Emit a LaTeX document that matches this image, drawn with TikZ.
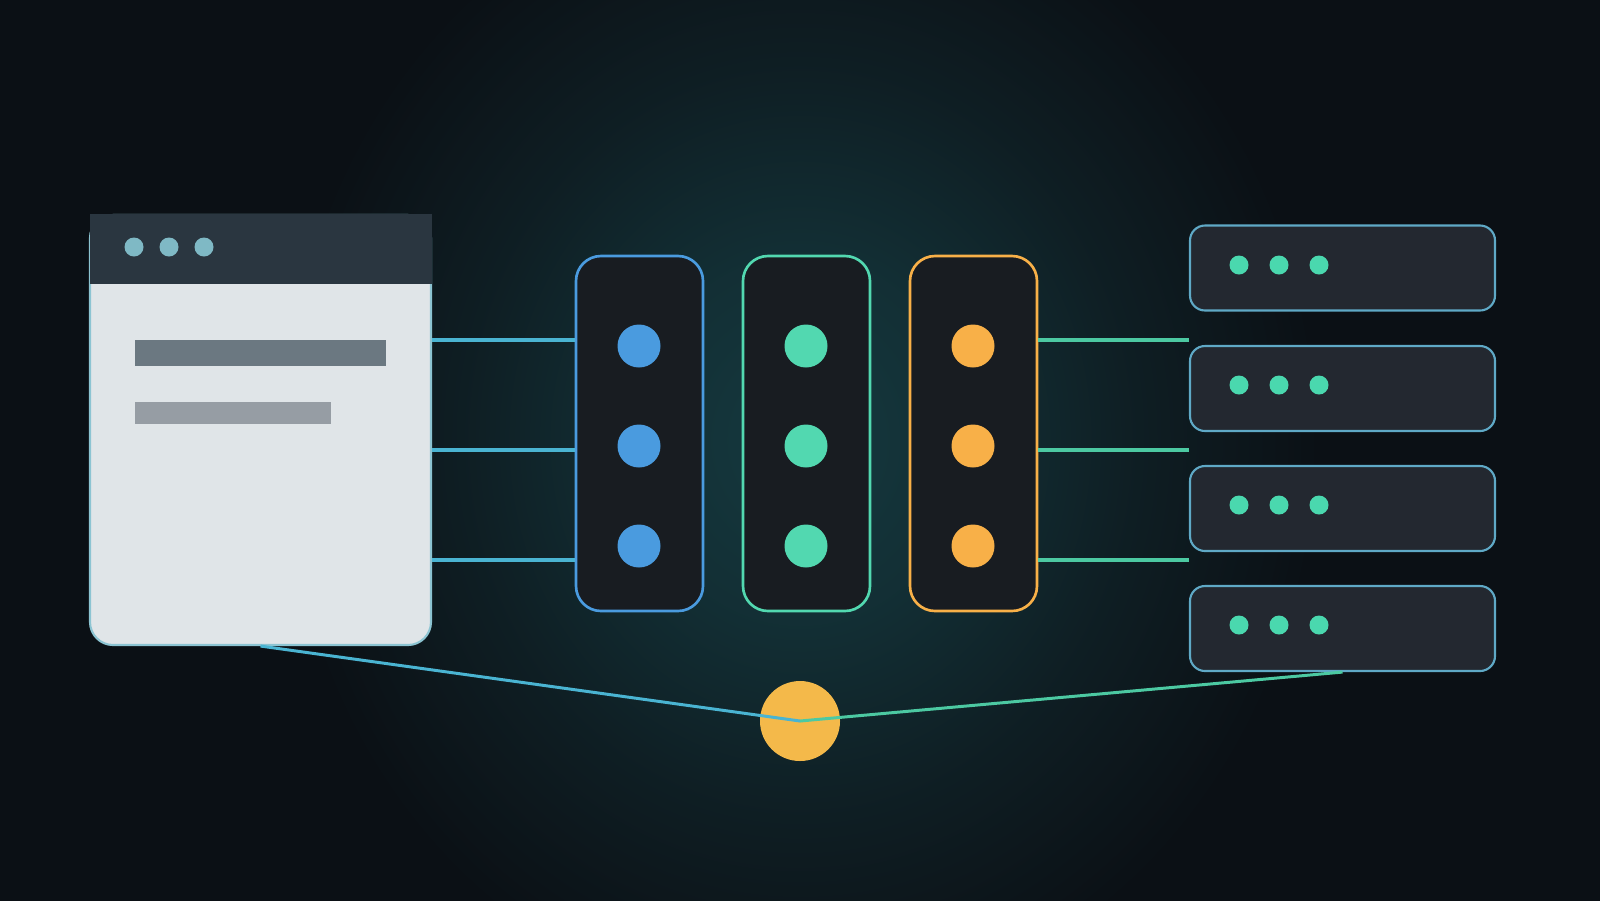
\documentclass[tikz,border=0pt]{standalone}
\usepackage{tikz}
\usetikzlibrary{calc}

\definecolor{bgdark}{HTML}{0B1015}
\definecolor{glowteal}{HTML}{15393F}
\definecolor{boxfill}{HTML}{181C21}
\definecolor{srvfill}{HTML}{232830}
\definecolor{srvline}{HTML}{5FA9C6}
\definecolor{pagebody}{HTML}{E0E5E8}
\definecolor{pageline}{HTML}{8CC4D2}
\definecolor{pagehead}{HTML}{2A3640}
\definecolor{headdot}{HTML}{7FB9C5}
\definecolor{barone}{HTML}{6B7881}
\definecolor{bartwo}{HTML}{969DA4}
\definecolor{nodeblue}{HTML}{4A9BDF}
\definecolor{nodegreen}{HTML}{52D8B0}
\definecolor{nodeorange}{HTML}{F8B048}
\definecolor{hubyellow}{HTML}{F4B94A}
\definecolor{srvdot}{HTML}{4AD8AE}
\definecolor{wireblue}{HTML}{4AB4D2}
\definecolor{wiregreen}{HTML}{4CC9A2}

\pgfdeclareradialshading{glowshade}{\pgfpoint{0bp}{0bp}}{color(0bp)=(glowteal); color(8bp)=(glowteal!75!bgdark); color(16bp)=(glowteal!35!bgdark); color(25bp)=(bgdark); color(50bp)=(bgdark)}

\begin{document}
\begin{tikzpicture}[
    colbox/.style={line width=0.75pt, rounded corners=0.25cm, fill=boxfill, minimum width=1.27cm, minimum height=3.55cm, inner sep=0pt},
    srvbox/.style={draw=srvline, line width=0.6pt, rounded corners=0.15cm, fill=srvfill, minimum width=3.05cm, minimum height=0.85cm, inner sep=0pt},
    coldot/.style={inner sep=0pt, shape=circle, minimum size=0.43cm},
    smalldot/.style={inner sep=0pt, shape=circle, minimum size=0.19cm},
    bar/.style={inner sep=0pt, shape=rectangle},
    leftwire/.style={wireblue, line width=1.15pt},
    rightwire/.style={wiregreen, line width=1.15pt},
  ]
          \useasboundingbox (0,0) rectangle (16,-9);
          % background and glow
          \fill[bgdark] (-0.1,0.1) rectangle (16.1,-9.1);
          \shade[shading=glowshade] (8,-4.4) ellipse (5.2 and 5.8);

          % browser window
          \node[draw=pageline, line width=0.6pt, fill=pagebody, rounded corners=0.23cm, minimum width=3.41cm, minimum height=4.30cm, inner sep=0pt] (browser) at (2.605,-4.30) {};
          \node[fill=pagehead, minimum width=3.42cm, minimum height=0.70cm, inner sep=0pt] (header) at (2.605,-2.49) {};
          \node[fill=headdot, smalldot] (hd1) at (1.34,-2.47) {};
          \node[fill=headdot, smalldot] (hd2) at (1.69,-2.47) {};
          \node[fill=headdot, smalldot] (hd3) at (2.04,-2.47) {};
          \node[fill=barone, bar, minimum width=2.51cm, minimum height=0.26cm] (bar1) at (2.605,-3.53) {};
          \node[fill=bartwo, bar, minimum width=1.96cm, minimum height=0.22cm] (bar2) at (2.33,-4.13) {};

          % three columns
          \node[colbox, draw=nodeblue] (colA) at (6.395,-4.335) {};
          \node[colbox, draw=nodegreen] (colB) at (8.065,-4.335) {};
          \node[colbox, draw=nodeorange] (colC) at (9.735,-4.335) {};
          \node[fill=nodeblue, coldot] (a1) at (6.39,-3.46) {};
          \node[fill=nodeblue, coldot] (a2) at (6.39,-4.46) {};
          \node[fill=nodeblue, coldot] (a3) at (6.39,-5.46) {};
          \node[fill=nodegreen, coldot] (b1) at (8.06,-3.46) {};
          \node[fill=nodegreen, coldot] (b2) at (8.06,-4.46) {};
          \node[fill=nodegreen, coldot] (b3) at (8.06,-5.46) {};
          \node[fill=nodeorange, coldot] (c1) at (9.73,-3.46) {};
          \node[fill=nodeorange, coldot] (c2) at (9.73,-4.46) {};
          \node[fill=nodeorange, coldot] (c3) at (9.73,-5.46) {};

          % server stack
          \node[srvbox] (srv1) at (13.425,-2.68) {};
          \node[srvbox] (srv2) at (13.425,-3.885) {};
          \node[srvbox] (srv3) at (13.425,-5.085) {};
          \node[srvbox] (srv4) at (13.425,-6.285) {};
          \node[fill=srvdot, smalldot] (s11) at (12.39,-2.65) {};
          \node[fill=srvdot, smalldot] (s12) at (12.79,-2.65) {};
          \node[fill=srvdot, smalldot] (s13) at (13.19,-2.65) {};
          \node[fill=srvdot, smalldot] (s21) at (12.39,-3.85) {};
          \node[fill=srvdot, smalldot] (s22) at (12.79,-3.85) {};
          \node[fill=srvdot, smalldot] (s23) at (13.19,-3.85) {};
          \node[fill=srvdot, smalldot] (s31) at (12.39,-5.05) {};
          \node[fill=srvdot, smalldot] (s32) at (12.79,-5.05) {};
          \node[fill=srvdot, smalldot] (s33) at (13.19,-5.05) {};
          \node[fill=srvdot, smalldot] (s41) at (12.39,-6.25) {};
          \node[fill=srvdot, smalldot] (s42) at (12.79,-6.25) {};
          \node[fill=srvdot, smalldot] (s43) at (13.19,-6.25) {};

          % wires
          \coordinate (w1) at (0,-3.40);
          \coordinate (w2) at (0,-4.50);
          \coordinate (w3) at (0,-5.60);
          \draw[leftwire] (browser.east |- w1) -- (colA.west |- w1);
          \draw[leftwire] (browser.east |- w2) -- (colA.west |- w2);
          \draw[leftwire] (browser.east |- w3) -- (colA.west |- w3);
          \draw[rightwire] (colC.east |- w1) -- (srv1.west |- w1);
          \draw[rightwire] (colC.east |- w2) -- (srv1.west |- w2);
          \draw[rightwire] (colC.east |- w3) -- (srv1.west |- w3);

          % hub below
          \node[fill=hubyellow, inner sep=0pt, shape=circle, minimum size=0.80cm] (hub) at (8.00,-7.21) {};
          \draw[wireblue, line width=0.85pt] (browser.south) -- (hub.center);
          \draw[wiregreen, line width=0.85pt] (hub.center) -- (srv4.south);
        \end{tikzpicture}
\end{document}
